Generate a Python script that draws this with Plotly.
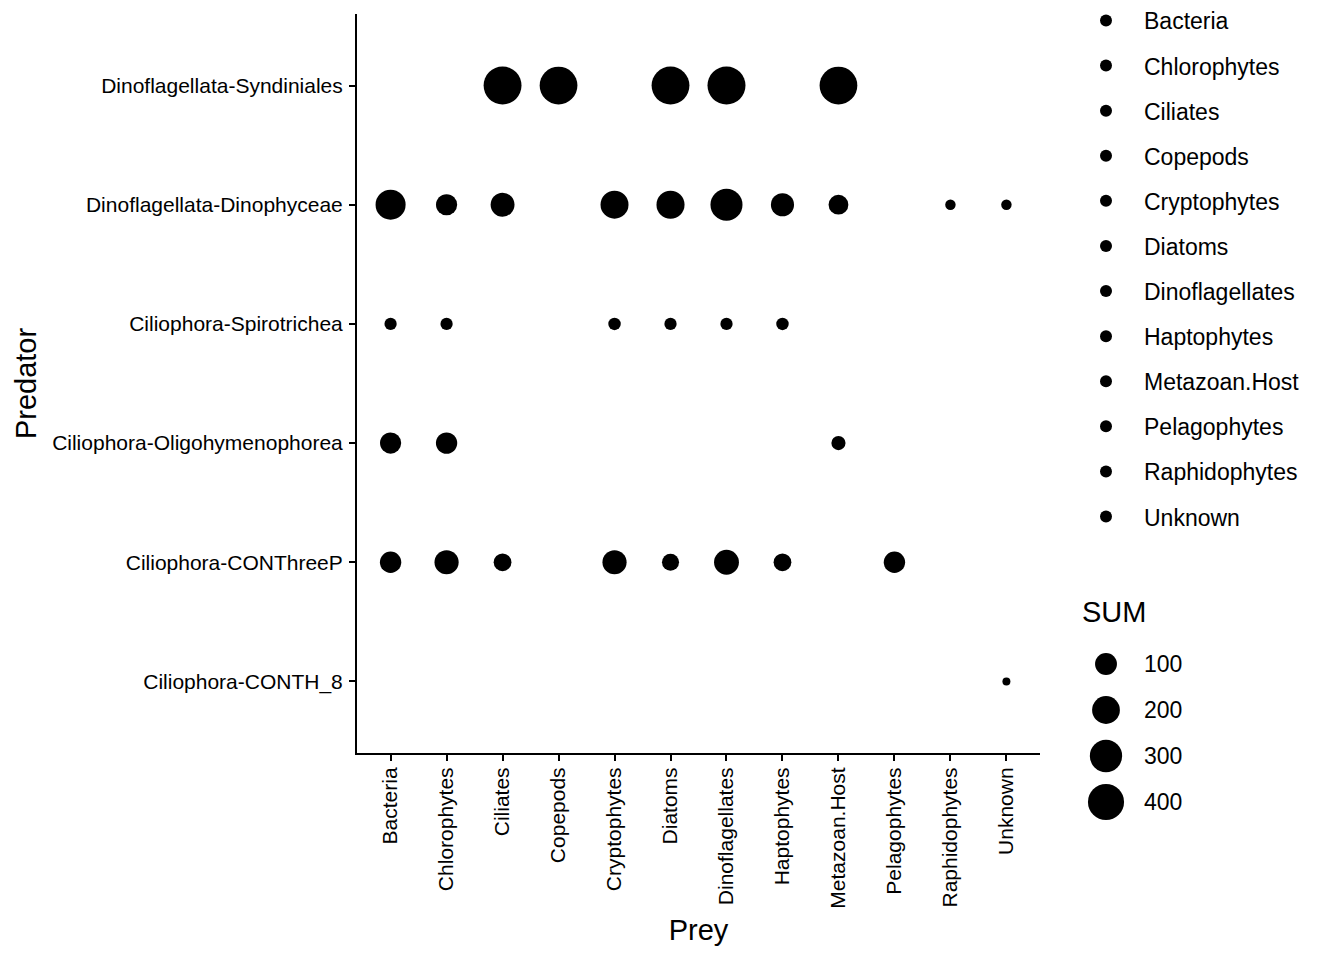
import numpy as np
import plotly.graph_objects as go

FONT = "Liberation Sans, Arial, sans-serif"

predator_levels = [
    "Ciliophora-CONTH_8",
    "Ciliophora-CONThreeP",
    "Ciliophora-Oligohymenophorea",
    "Ciliophora-Spirotrichea",
    "Dinoflagellata-Dinophyceae",
    "Dinoflagellata-Syndiniales",
]
prey_levels = [
    "Bacteria", "Chlorophytes", "Ciliates", "Copepods", "Cryptophytes", "Diatoms",
    "Dinoflagellates", "Haptophytes", "Metazoan.Host", "Pelagophytes",
    "Raphidophytes", "Unknown",
]

# long-form data, one entry per (predator, prey) pair
point_predator = (
    ["Dinoflagellata-Syndiniales"] * 5
    + ["Dinoflagellata-Dinophyceae"] * 10
    + ["Ciliophora-Spirotrichea"] * 6
    + ["Ciliophora-Oligohymenophorea"] * 3
    + ["Ciliophora-CONThreeP"] * 8
    + ["Ciliophora-CONTH_8"] * 1
)
point_prey = [
    "Ciliates", "Copepods", "Diatoms", "Dinoflagellates", "Metazoan.Host",
    "Bacteria", "Chlorophytes", "Ciliates", "Cryptophytes", "Diatoms",
    "Dinoflagellates", "Haptophytes", "Metazoan.Host", "Raphidophytes", "Unknown",
    "Bacteria", "Chlorophytes", "Cryptophytes", "Diatoms", "Dinoflagellates", "Haptophytes",
    "Bacteria", "Chlorophytes", "Metazoan.Host",
    "Bacteria", "Chlorophytes", "Ciliates", "Cryptophytes", "Diatoms",
    "Dinoflagellates", "Haptophytes", "Pelagophytes",
    "Unknown",
]
point_sum = [
    452, 448, 450, 455, 447,
    247, 90, 130, 203, 205, 293, 118, 73, 6, 6,
    12, 12, 13, 12, 12, 13,
    90, 92, 22,
    93, 134, 51, 134, 44, 146, 51, 93,
    3,
]

sum_breaks = [100, 200, 300, 400]

# ggplot-like area scale: diameter grows with sqrt of rescaled value
D_MIN, D_MAX = 8, 38
lo, hi = min(point_sum), max(point_sum)


def diam(v):
    return D_MIN + (D_MAX - D_MIN) * np.sqrt((np.asarray(v, dtype=float) - lo) / (hi - lo))


# page has an 8px body margin, so the figure is a bit smaller and every
# target position below is given in page pixels and converted here
OFF = 8
W, H = 1344 - OFF, 960 - OFF


def fx(p):
    return (p - OFF) / W


def fy(p):
    return (H - (p - OFF)) / H


fig = go.Figure()

for prey in prey_levels:
    idx = [i for i, p in enumerate(point_prey) if p == prey]
    fig.add_trace(go.Scatter(
        x=[point_prey[i] for i in idx],
        y=[point_predator[i] for i in idx],
        mode="markers",
        name=prey,
        legendgroup=prey,
        marker=dict(color="black", size=diam([point_sum[i] for i in idx]),
                    sizemode="diameter", line_width=0, opacity=1),
        hovertemplate="%{y}<br>%{x}<extra></extra>",
    ))

# size legend drawn on its own small axes (1 x-unit = 39px)
x2_left = 1080
x2_unit = 39
dot_x = 1106
fig.add_trace(go.Scatter(
    x=[0] * len(sum_breaks),
    y=list(range(len(sum_breaks))),
    mode="markers",
    marker=dict(color="black", size=diam(sum_breaks), sizemode="diameter",
                line_width=0, opacity=1),
    xaxis="x2", yaxis="y2",
    showlegend=False, hoverinfo="skip",
))
x2_r0 = -(dot_x - x2_left) / x2_unit
x2_r1 = x2_r0 + (1344 - x2_left) / x2_unit

annotations = [
    dict(x=1 - 3 / x2_unit, y=i, xref="x2", yref="y2", text=str(b), showarrow=False,
         xanchor="left", yanchor="middle", font=dict(size=23, family=FONT, color="black"))
    for i, b in enumerate(sum_breaks)
]
annotations.append(dict(x=fx(1080), y=fy(612), xref="paper", yref="paper", text="SUM",
                        showarrow=False, xanchor="left", yanchor="middle",
                        font=dict(size=29, family=FONT, color="black")))

axis_common = dict(
    type="category", showgrid=False, zeroline=False, showline=True, linecolor="black",
    linewidth=2, ticks="outside", ticklen=6, tickwidth=2, tickcolor="black",
    tickfont=dict(size=21, family=FONT, color="black"),
)

fig.update_layout(
    width=W, height=H,
    margin=dict(l=0, r=0, t=0, b=0, autoexpand=False),
    paper_bgcolor="white", plot_bgcolor="white",
    font=dict(family=FONT, color="black"),
    xaxis=dict(axis_common, domain=[fx(357), fx(1040)],
               categoryorder="array", categoryarray=prey_levels,
               range=[-0.6, len(prey_levels) - 0.4], tickangle=-90,
               ticklabelstandoff=-2,
               title=dict(text="Prey", font=dict(size=29, family=FONT), standoff=12)),
    yaxis=dict(axis_common, domain=[fy(753), fy(14)],
               categoryorder="array", categoryarray=predator_levels,
               range=[-0.6, len(predator_levels) - 0.4],
               ticklabelstandoff=2,
               title=dict(text="Predator", font=dict(size=29, family=FONT), standoff=7)),
    xaxis2=dict(domain=[fx(x2_left), 1], range=[x2_r0, x2_r1], visible=False),
    yaxis2=dict(domain=[fy(825), fy(641)], range=[3.5, -0.5], visible=False),
    legend=dict(x=fx(1068), xanchor="left", y=fy(-1), yanchor="top",
                font=dict(size=23, family=FONT, color="black"),
                itemsizing="constant", itemwidth=66, tracegroupgap=12.2,
                traceorder="grouped", bgcolor="rgba(0,0,0,0)", maxheight=2000),
    annotations=annotations,
    showlegend=True,
)

fig.write_html("out.html")
